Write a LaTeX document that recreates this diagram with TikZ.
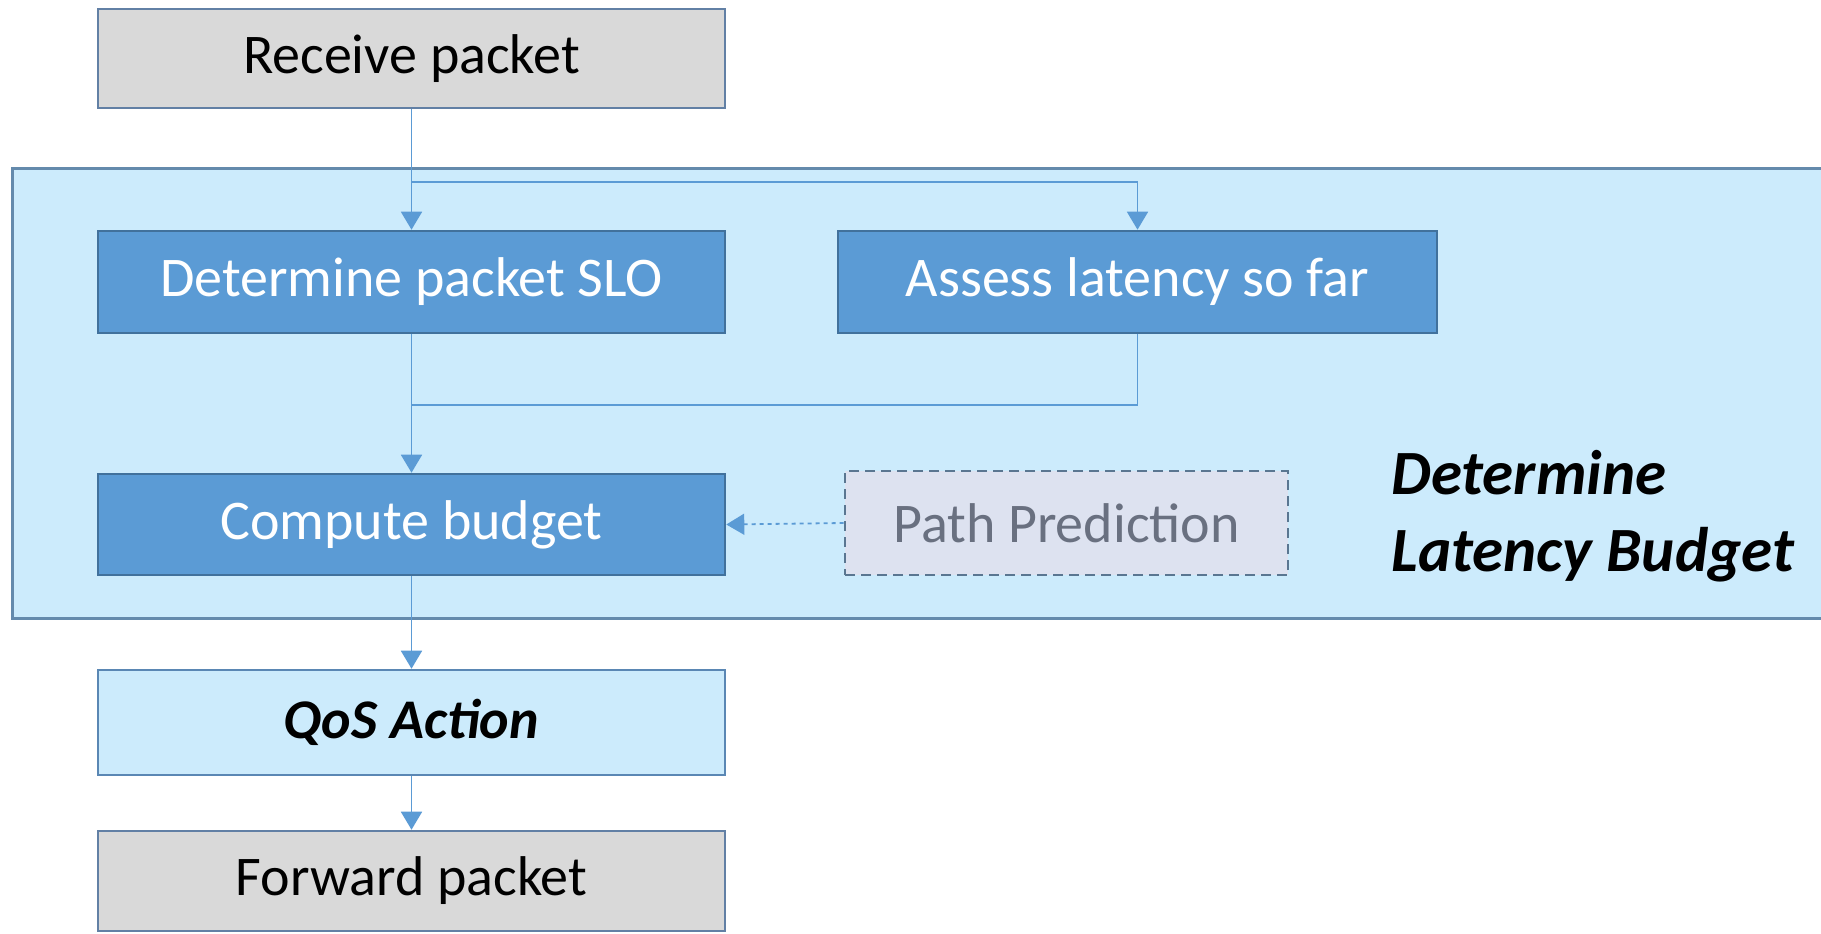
\documentclass[tikz,border=0pt]{standalone}
\usepackage{fontspec}
\setmainfont{Carlito}
\usetikzlibrary{arrows.meta}
\definecolor{contfill}{RGB}{204,235,252}
\definecolor{contdraw}{RGB}{100,138,172}
\definecolor{darkfill}{RGB}{91,155,213}
\definecolor{darkdraw}{RGB}{65,113,156}
\definecolor{greyfill}{RGB}{217,217,217}
\definecolor{greydraw}{RGB}{98,128,165}
\definecolor{qosdraw}{RGB}{90,135,180}
\definecolor{pathfill}{RGB}{221,226,240}
\definecolor{pathdraw}{RGB}{90,118,145}
\definecolor{pathtext}{RGB}{105,112,128}
\definecolor{arrcol}{RGB}{91,155,213}
\tikzset{
  basebox/.style={rectangle, inner sep=0pt, line width=1.3pt, font=\fontsize{28}{34}\selectfont},
  greybox/.style={basebox, fill=greyfill, draw=greydraw, text=black},
  darkbox/.style={basebox, fill=darkfill, draw=darkdraw, text=white},
  qosbox/.style={basebox, fill=contfill, draw=qosdraw, text=black, font=\fontsize{28}{34}\selectfont\bfseries\itshape},
  pathbox/.style={basebox, fill=pathfill, draw=pathdraw, dash pattern=on 5pt off 3pt, text=pathtext},
  conn/.style={draw=arrcol, line width=0.9pt},
  arr/.style={conn, -{Triangle[length=9pt,width=10.5pt]}},
}
\begin{document}
\begin{tikzpicture}[x=0.5pt,y=-0.5pt]
\useasboundingbox (0,0) rectangle (1821,933);
\fill[white] (0,0) rectangle (1821,933);
% container
\fill[contfill] (12,168) rectangle (1821,618);
\draw[contdraw, line width=1.5pt] (1821,168) -- (12,168) -- (12,618) -- (1821,618);

\node[greybox, minimum width=313.5pt, minimum height=49.5pt] (recv) at (411.5,58.5) {Receive packet};
\node[darkbox, minimum width=313.5pt, minimum height=51pt] (slo) at (411.5,282) {Determine packet SLO};
\node[darkbox, minimum width=299.5pt, minimum height=51pt] (assess) at (1137.5,282) {Assess latency so far};
\node[darkbox, minimum width=313.5pt, minimum height=50.5pt] (comp) at (411.5,524.5) {Compute budget};
\node[pathbox, minimum width=221.5pt, minimum height=52pt] (path) at (1066.5,523) {Path Prediction};
\node[qosbox, minimum width=313.5pt, minimum height=52.5pt] (qos) at (411.5,722.5) {QoS Action};
\node[greybox, minimum width=313.5pt, minimum height=50pt] (fwd) at (411.5,881) {Forward packet};

\node[anchor=west, align=left, inner sep=0pt, font=\fontsize{31.5}{38.5}\selectfont\bfseries\itshape] (label) at (1391,516) {Determine\\Latency Budget};

\coordinate (split) at (411.5,182);
\coordinate (merge) at (411.5,405);
\draw[arr] (recv.south) -- (slo.north);
\draw[arr] (split) -| (assess.north);
\draw[conn] (assess.south) |- (merge);
\draw[arr] (slo.south) -- (comp.north);
\draw[arr, dash pattern=on 2pt off 2pt] (path.west) -- (comp.east);
\draw[arr] (comp.south) -- (qos.north);
\draw[arr] (qos.south) -- (fwd.north);
\end{tikzpicture}
\end{document}
